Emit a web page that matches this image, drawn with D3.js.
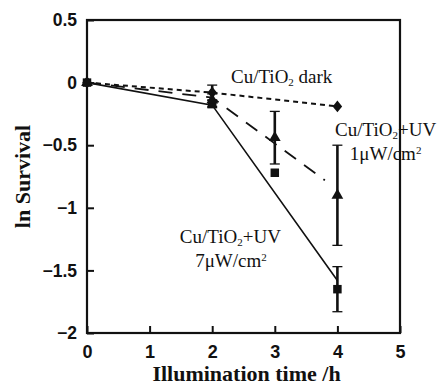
<!DOCTYPE html>
<html>
<head>
<meta charset="utf-8">
<script src="https://cdn.jsdelivr.net/npm/d3@7"></script>
<style>
  html, body { margin: 0; padding: 0; background: #fff; }
  svg { display: block; }
</style>
</head>
<body>
<div id="chart"></div>
<script>
// Illumination time (h) and ln survival for each condition
const darkTimes = [0, 2, 4];
const darkValues = [0, -0.08, -0.19];
const darkErrors = [0, 0.06, 0];

const uv1Times = [0, 2, 3, 4];
const uv1Values = [0, -0.14, -0.44, -0.9];
const uv1Errors = [0, 0.05, 0.21, 0.4];

const uv7Times = [0, 2, 3, 4];
const uv7Values = [0, -0.17, -0.72, -1.65];
const uv7Errors = [0, 0.03, 0, 0.18];

// Trend lines drawn through each series
const darkLineT = [0, 2, 4];
const darkLineV = [0, -0.08, -0.19];
const uv1LineT = [0, 2, 3.8];
const uv1LineV = [0, -0.12, -0.78];
const uv7LineT = [0, 2, 4];
const uv7LineV = [0, -0.18, -1.58];

const xTicks = [0, 1, 2, 3, 4, 5];
const yTicks = [0.5, 0, -0.5, -1, -1.5, -2];

const W = 441, H = 385;
const svg = d3.select("#chart").append("svg").attr("width", W).attr("height", H);

const x = d3.scaleLinear().domain([0, 5]).range([87, 400]);
const y = d3.scaleLinear().domain([-2, 0.5]).range([333, 20]);

const sans = "'Liberation Sans', Arial, sans-serif";
const serif = "'Liberation Serif', 'Times New Roman', serif";

// Axes with inward ticks
const gx = svg.append("g").attr("transform", `translate(0,${y(-2)})`)
  .call(d3.axisBottom(x).tickValues(xTicks).tickFormat(d3.format("d"))
    .tickSizeInner(-7).tickSizeOuter(0).tickPadding(12));
gx.select(".domain").remove();
gx.selectAll("line").attr("stroke", "#111").attr("stroke-width", 2);
gx.selectAll("text").attr("font-family", sans).attr("font-weight", "bold")
  .attr("font-size", 18).attr("fill", "#111");

const gy = svg.append("g").attr("transform", `translate(${x(0)},0)`)
  .call(d3.axisLeft(y).tickValues(yTicks).tickFormat(d => d3.format("")(d))
    .tickSizeInner(-7).tickSizeOuter(0).tickPadding(10));
gy.select(".domain").remove();
gy.selectAll("line").attr("stroke", "#111").attr("stroke-width", 2);
gy.selectAll("text").attr("font-family", sans).attr("font-weight", "bold")
  .attr("font-size", 17.5).attr("fill", "#111");

// Frame
svg.append("rect")
  .attr("x", x(0)).attr("y", y(0.5))
  .attr("width", x(5) - x(0)).attr("height", y(-2) - y(0.5))
  .attr("fill", "none").attr("stroke", "#111").attr("stroke-width", 2.2);

// Axis titles
svg.append("text")
  .attr("x", (x(0) + x(5)) / 2 + 3).attr("y", 381)
  .attr("text-anchor", "middle")
  .attr("font-family", serif).attr("font-weight", "bold").attr("font-size", 22)
  .attr("fill", "#111")
  .text("Illumination time /h");

svg.append("text")
  .attr("transform", `translate(30,${(y(0.5) + y(-2)) / 2}) rotate(-90)`)
  .attr("text-anchor", "middle")
  .attr("font-family", serif).attr("font-weight", "bold").attr("font-size", 22)
  .attr("fill", "#111")
  .text("ln Survival");

// Trend lines
const line = d3.line().x(d => x(d[0])).y(d => y(d[1]));
const zip = (t, v) => t.map((d, i) => [d, v[i]]);

svg.append("path").datum(zip(darkLineT, darkLineV)).attr("d", line)
  .attr("fill", "none").attr("stroke", "#111").attr("stroke-width", 2)
  .attr("stroke-dasharray", "5,4");
svg.append("path").datum(zip(uv1LineT, uv1LineV)).attr("d", line)
  .attr("fill", "none").attr("stroke", "#111").attr("stroke-width", 1.8)
  .attr("stroke-dasharray", "14,10");
svg.append("path").datum(zip(uv7LineT, uv7LineV)).attr("d", line)
  .attr("fill", "none").attr("stroke", "#111").attr("stroke-width", 1.6);

// Error bars
function errorBars(times, values, errors) {
  const pts = times.map((t, i) => ({ t, v: values[i], e: errors[i] })).filter(d => d.e > 0);
  const g = svg.append("g").attr("stroke", "#111");
  g.selectAll("line.bar").data(pts).join("line").attr("class", "bar")
    .attr("x1", d => x(d.t)).attr("x2", d => x(d.t))
    .attr("y1", d => y(d.v + d.e)).attr("y2", d => y(d.v - d.e))
    .attr("stroke-width", 2.6);
  ["top", "bot"].forEach(k => {
    g.selectAll("line." + k).data(pts).join("line").attr("class", k)
      .attr("x1", d => x(d.t) - 5).attr("x2", d => x(d.t) + 5)
      .attr("y1", d => y(k === "top" ? d.v + d.e : d.v - d.e))
      .attr("y2", d => y(k === "top" ? d.v + d.e : d.v - d.e))
      .attr("stroke-width", 1.3);
  });
}
errorBars(uv1Times, uv1Values, uv1Errors);
errorBars(uv7Times, uv7Values, uv7Errors);
errorBars(darkTimes, darkValues, darkErrors);

// Markers
function markers(times, values, type, size) {
  svg.append("g").selectAll("path").data(times.map((t, i) => [t, values[i]])).join("path")
    .attr("transform", d => `translate(${x(d[0])},${y(d[1])})` + (type === d3.symbolDiamond ? " scale(1.25,0.9)" : ""))
    .attr("d", d3.symbol().type(type).size(size))
    .attr("fill", "#111");
}
markers(uv7Times, uv7Values, d3.symbolSquare, 72);
markers(uv1Times, uv1Values, d3.symbolTriangle, 60);
markers(darkTimes, darkValues, d3.symbolDiamond, 50);

// Series labels
function label(tx, ty, anchor, parts) {
  const t = svg.append("text")
    .attr("x", x(tx)).attr("y", y(ty)).attr("text-anchor", anchor)
    .attr("font-family", serif).attr("font-size", 19).attr("fill", "#111");
  parts.forEach(p => {
    const s = t.append("tspan").text(p.s);
    if (p.sub) s.attr("font-size", 11).attr("dy", 3);
    if (p.sup) s.attr("font-size", 11).attr("dy", -6);
    if (p.back) s.attr("dy", p.back);
  });
}
label(2.3, 0.0, "start", [{ s: "Cu/TiO" }, { s: "2", sub: true }, { s: " dark", back: -3 }]);
label(4.77, -0.43, "middle", [{ s: "Cu/TiO" }, { s: "2", sub: true }, { s: "+UV", back: -3 }]);
label(4.77, -0.615, "middle", [{ s: "1\u03bcW/cm" }, { s: "2", sup: true }]);
label(2.29, -1.285, "middle", [{ s: "Cu/TiO" }, { s: "2", sub: true }, { s: "+UV", back: -3 }]);
label(2.3, -1.47, "middle", [{ s: "7\u03bcW/cm" }, { s: "2", sup: true }]);
</script>
</body>
</html>
